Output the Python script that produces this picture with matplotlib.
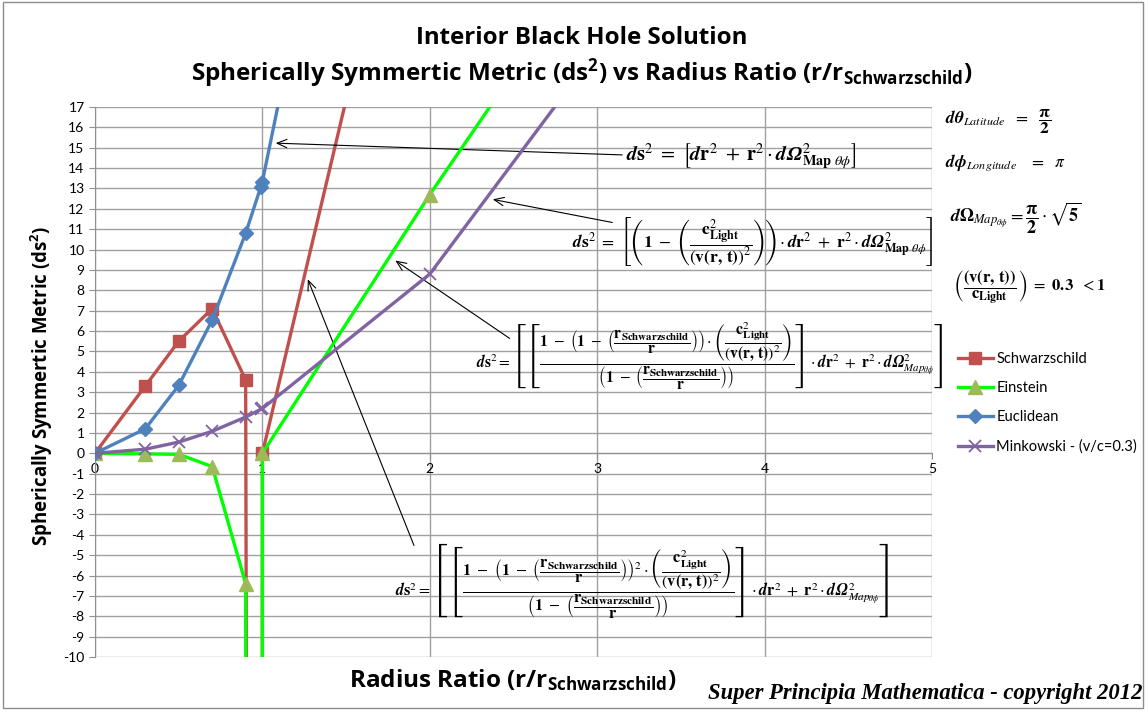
import matplotlib
matplotlib.use("Agg")
import matplotlib.pyplot as plt
from matplotlib.patches import Rectangle

# ---- data ----
radius_ratio = [0, 0.3, 0.5, 0.7, 0.9, 0.99, 1.0, 2.0, 3.0]
schwarzschild = [0, 3.3, 5.5, 7.1, 3.6, -300, 0, 34.7, 69.0]
einstein = [0, -0.03, -0.05, -0.65, -6.4, -600, 0, 12.7, 24.7]
euclidean = [0, 1.2, 3.33, 6.54, 10.8, 13.07, 13.34, 53.35, 120.0]
minkowski = [0, 0.2, 0.55, 1.08, 1.78, 2.16, 2.2, 8.8, 19.8]

series_names = ["Schwarzschild", "Einstein", "Euclidean", "Minkowski - (v/c=0.3)"]
x_ticks = [0, 1, 2, 3, 4, 5]
y_ticks = list(range(-10, 18))

plt.rcParams['font.family'] = ['Lato', 'DejaVu Sans']
plt.rcParams['mathtext.rm'] = 'Open Sans:bold'
plt.rcParams['mathtext.it'] = 'Open Sans:bold'
plt.rcParams['mathtext.bf'] = 'Open Sans:bold'
plt.rcParams['mathtext.sf'] = 'Open Sans:bold'

W, H = 1148, 712
fig = plt.figure(figsize=(W / 100, H / 100), dpi=100)
fig.patch.set_facecolor('white')

def fx(px):
    return px / W

def fy(py):
    return 1 - py / H

ax = fig.add_axes([fx(95), fy(657), fx(932) - fx(95), fy(107) - fy(657)])
ax.set_xlim(0, 5)
ax.set_ylim(-10, 17)
ax.set_xticks(x_ticks)
ax.set_yticks(y_ticks)
ax.set_xticklabels([str(t) for t in x_ticks])
ax.set_yticklabels([str(t) for t in y_ticks])
ax.grid(True, color='#a0a0a0', linewidth=1.0)
ax.set_axisbelow(True)
for s in ['top', 'right']:
    ax.spines[s].set_visible(False)
ax.spines['bottom'].set_position(('data', 0))
ax.spines['bottom'].set_color('#909090')
ax.spines['left'].set_color('#909090')
ax.tick_params(axis='both', colors='#909090', labelcolor='black', labelsize=10, length=4)
ax.tick_params(axis='x', pad=3)

lw = 2.4
l1, = ax.plot(radius_ratio, schwarzschild, color='#C0504D', lw=lw, marker='s', ms=8.5,
              mfc='#C0504D', mec='#C0504D', zorder=3)
l2, = ax.plot(radius_ratio, einstein, color='#00FF00', lw=lw, marker='^', ms=9.5,
              mfc='#9BBB59', mec='#9BBB59', zorder=4)
l3, = ax.plot(radius_ratio, euclidean, color='#4F81BD', lw=lw, marker='D', ms=7,
              mfc='#4F81BD', mec='#4F81BD', zorder=5)
l4, = ax.plot(radius_ratio, minkowski, color='#8064A2', lw=lw, marker='x', ms=8,
              mew=1.3, mec='#8064A2', zorder=6)

# ---- titles and labels ----
title_kw = dict(ha='center', va='center', fontweight='bold', family='Open Sans', math_fontfamily='custom')
fig.text(fx(582), fy(38), "Interior Black Hole Solution", fontsize=17.3, **title_kw)
fig.text(fx(582), fy(73), r"Spherically Symmertic Metric (ds$^{2}$) vs Radius Ratio (r/r$_{\mathrm{Schwarzschild}}$)",
         fontsize=17.5, **title_kw)
fig.text(fx(42), fy(386), r"Spherically Symmertic Metric (ds$^{2}$)", rotation=90, fontsize=13.4, **title_kw)
fig.text(fx(513), fy(680), r"Radius Ratio (r/r$_{\mathrm{Schwarzschild}}$)", fontsize=17.5, **title_kw)
fig.text(fx(1143), fy(693), "Super Principia Mathematica - copyright 2012", ha='right', va='center',
         fontsize=16.3, fontweight='bold', fontstyle='italic', family='Liberation Serif')

# ---- legend ----
fig.legend([l1, l2, l3, l4], series_names, loc='upper left',
           bbox_to_anchor=(fx(952), fy(346)), frameon=False, fontsize=10.5,
           handlelength=2.4, labelspacing=1.05, handletextpad=0.25, borderaxespad=0)

# ---- equations ----
eq_kw = dict(math_fontfamily='stix', color='black')
dsq = r"\mathbfit{d}\mathbf{s}^{2}"
dr2 = r"\mathbfit{d}\mathbf{r}^{2}"
dOm = r"\mathbfit{d\Omega}^{2}_{\mathit{Map}_{\theta\phi}}"
cfrac = r"\left(\dfrac{\mathbf{c}^{2}_{\mathbf{Light}}}{\left(\mathbf{v(r,\,t)}\right)^{2}}\right)"
rsfrac = r"\left(\dfrac{\mathbf{r}_{\mathbf{Schwarzschild}}}{\mathbf{r}}\right)"

eq1 = r"$" + dsq + r"\ =\ \left[" + dr2 + r"\ +\ \mathbf{r}^{2}\cdot\mathbfit{d\Omega}^{2}_{\mathbf{Map}\ \theta\phi}\right]$"
eq2 = (r"$" + dsq + r"\ =\ \left[\left(\mathbf{1}\ -\ " + cfrac + r"\right)\cdot " + dr2 +
       r"\ +\ \mathbf{r}^{2}\cdot " + r"\mathbfit{d\Omega}^{2}_{\mathbf{Map}\ \theta\phi}" + r"\right]$")
eq3 = (r"$" + dsq + r"=\left[\left[\dfrac{\mathbf{1}\ -\ \left(\mathbf{1}\ -\ " + rsfrac + r"\right)\cdot" + cfrac +
       r"}{\left(\mathbf{1}\ -\ " + rsfrac + r"\right)}\right]\cdot " + dr2 + r"\ +\ \mathbf{r}^{2}\cdot " + dOm + r"\right]$")
eq4 = (r"$" + dsq + r"=\left[\left[\dfrac{\mathbf{1}\ -\ \left(\mathbf{1}\ -\ " + rsfrac + r"\right)^{2}\cdot" + cfrac +
       r"}{\left(\mathbf{1}\ -\ " + rsfrac + r"\right)}\right]\cdot " + dr2 + r"\ +\ \mathbf{r}^{2}\cdot " + dOm + r"\right]$")

fig.text(fx(626), fy(157), eq1, ha='left', va='center', fontsize=14.6, **eq_kw)
fig.text(fx(572), fy(242), eq2, ha='left', va='center', fontsize=12.5, **eq_kw)
fig.text(fx(476), fy(356), eq3, ha='left', va='center', fontsize=11.2, **eq_kw)
fig.text(fx(395), fy(580), eq4, ha='left', va='center', fontsize=11.6, **eq_kw)

# right-hand annotations
fig.text(fx(945), fy(122), r"$\mathbfit{d\theta}_{\mathit{Latitude}}\ \ =\ \ \dfrac{\mathbf{\pi}}{\mathbf{2}}$",
         ha='left', va='center', fontsize=12.5, **eq_kw)
fig.text(fx(945), fy(163), r"$\mathbfit{d\phi}_{\mathit{Longitude}}\ \ \ =\ \ \pi$",
         ha='left', va='center', fontsize=12.5, **eq_kw)
fig.text(fx(950), fy(218), r"$\mathbfit{d}\mathbf{\Omega}_{\mathit{Map}_{\theta\phi}} = \dfrac{\mathbf{\pi}}{\mathbf{2}}\cdot\sqrt{\mathbf{5}}$",
         ha='left', va='center', fontsize=13, **eq_kw)
fig.text(fx(953), fy(288), r"$\left(\dfrac{\mathbf{(v(r,\,t))}}{\mathbf{c_{Light}}}\right)\ =\ \mathbf{0.3}\ \ <\mathbf{1}$",
         ha='left', va='center', fontsize=12, **eq_kw)

# ---- arrows from equations to curves ----
arrow_kw = dict(arrowstyle='->,head_length=0.7,head_width=0.3', color='black', lw=0.8)
arrow_targets = [((1.063, 15.23), (625, 155)),
                 ((2.36, 12.49), (615, 223)),
                 ((1.78, 9.54), (512, 340)),
                 ((1.265, 8.67), (415, 548))]
for (xd, yd), (px, py) in arrow_targets:
    ax.annotate('', xy=(xd, yd), xycoords='data', xytext=(fx(px), fy(py)),
                textcoords='figure fraction', arrowprops=arrow_kw, annotation_clip=False)

# outer frame
fig.add_artist(Rectangle((fx(3), fy(708)), fx(1143) - fx(3), fy(2) - fy(708), transform=fig.transFigure,
                         fill=False, edgecolor='#8c8c8c', lw=1.0))

fig.savefig("out.png", dpi=100)
